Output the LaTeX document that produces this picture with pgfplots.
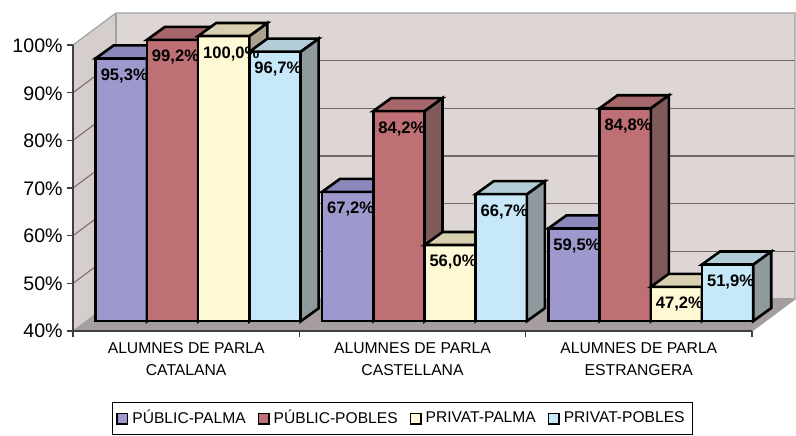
\documentclass[border=0pt]{standalone}
\usepackage{pgfplots}
\pgfplotsset{compat=1.18}
\usepackage{pgfplotstable}
\usepackage{fontspec}
\setmainfont{Liberation Sans}

\definecolor{cAf}{RGB}{158,153,204}
\definecolor{cAt}{RGB}{140,135,186}
\definecolor{cAs}{RGB}{108,104,150}
\definecolor{cBf}{RGB}{190,112,116}
\definecolor{cBt}{RGB}{166,102,106}
\definecolor{cBs}{RGB}{126,90,90}
\definecolor{cCf}{RGB}{255,249,214}
\definecolor{cCt}{RGB}{216,206,176}
\definecolor{cCs}{RGB}{170,162,140}
\definecolor{cDf}{RGB}{198,232,248}
\definecolor{cDt}{RGB}{178,204,216}
\definecolor{cDs}{RGB}{142,154,158}
\definecolor{backwall}{RGB}{222,214,212}
\definecolor{leftwall}{RGB}{214,206,204}
\definecolor{floorc}{RGB}{166,158,158}
\definecolor{gridc}{RGB}{115,104,104}
\definecolor{edgec}{RGB}{160,160,160}

\pgfplotsset{
  layers/mylayers/.define layer set={
    axis background,axis grid,axis ticks,axis lines,axis tick labels,
    main,L1,L2,L3,L4,labels,axis descriptions,axis foreground
  }{
    grid style={/pgfplots/on layer=axis grid},
    tick style={/pgfplots/on layer=axis ticks},
    axis line style={/pgfplots/on layer=axis lines},
    label style={/pgfplots/on layer=axis descriptions},
    legend style={/pgfplots/on layer=axis descriptions},
    ticklabel style={/pgfplots/on layer=axis tick labels},
  },
}

\newcommand{\bw}{12.8pt}
\newcommand{\ddx}{9pt}
\newcommand{\ddy}{6.5pt}
\newcommand{\defcube}[4]{%
 \pgfdeclareplotmark{#1}{%
  \begin{pgfscope}%
  \pgftransformxshift{#4}%
  \pgfmathsetmacro{\hh}{(\barval-40)*2.378}%
  \pgfsetlinewidth{1.3pt}\pgfsetstrokecolor{black}\pgfsetmiterjoin
  \pgfsetfillcolor{#3}%
  \pgfpathmoveto{\pgfpoint{\bw}{0pt}}%
  \pgfpathlineto{\pgfpoint{\bw+\ddx}{\ddy}}%
  \pgfpathlineto{\pgfpoint{\bw+\ddx}{\ddy-\hh pt}}%
  \pgfpathlineto{\pgfpoint{\bw}{-\hh pt}}%
  \pgfpathclose
  \pgfusepath{fill,stroke}%
  \pgfsetfillcolor{#2}%
  \pgfpathmoveto{\pgfpoint{-\bw}{0pt}}%
  \pgfpathlineto{\pgfpoint{\bw}{0pt}}%
  \pgfpathlineto{\pgfpoint{\bw+\ddx}{\ddy}}%
  \pgfpathlineto{\pgfpoint{-\bw+\ddx}{\ddy}}%
  \pgfpathclose
  \pgfusepath{fill,stroke}%
  \end{pgfscope}%
 }}
\defcube{cubeA}{cAt}{cAs}{-38.4pt}
\defcube{cubeB}{cBt}{cBs}{-12.8pt}
\defcube{cubeC}{cCt}{cCs}{12.8pt}
\defcube{cubeD}{cDt}{cDs}{38.4pt}

\pgfplotstableread{
x pp ppo pvp pvpo
0.5 95.3 99.2 100.0 96.7
1.5 67.2 84.2 56.0 66.7
2.5 59.5 84.8 47.2 51.9
}\datatable

\newcommand{\lbl}{\pgfmathprintnumber[fixed,fixed zerofill,precision=1,use comma,assume math mode=true]{\pgfplotspointmeta}\%}

\begin{document}
\begin{tikzpicture}
\begin{scope}[x=0.5pt,y=-0.5pt,shift={(-42.5pt,160.5pt)}]
\useasboundingbox (0,0) rectangle (796,428);
% walls
\fill[backwall] (116,13) rectangle (795,299);
\fill[leftwall] (73,45) -- (116,13) -- (116,299) -- (73,331) -- cycle;
\fill[floorc] (73,331) -- (752,331) -- (795,299) -- (116,299) -- cycle;
\foreach \v in {1,...,5} {
  \draw[gridc, line width=0.6pt] (116,{299-\v*47.667}) -- (795,{299-\v*47.667});
  \draw[gridc, line width=0.5pt] (73,{331-\v*47.667}) -- (116,{299-\v*47.667});
}
\draw[edgec, line width=0.6pt] (73,45) -- (116,13) -- (795,13) -- (795,299) -- (752,331);
\draw[edgec, line width=0.6pt] (116,13) -- (116,299) -- (795,299);
\draw[edgec, line width=0.5pt] (73,331) -- (116,299);
% front axes
\draw[black!75, line width=0.6pt] (73,45) -- (73,331) -- (752,331);
\foreach \v in {0,...,6} \draw[black!75, line width=0.6pt] (67,{331-\v*47.667}) -- (73,{331-\v*47.667});
\foreach \k in {0,...,3} \draw[black!75, line width=0.6pt] ({73+\k*226.33},331) -- ({73+\k*226.33},337);
\end{scope}

\begin{axis}[
  set layers=mylayers,
  at={(0pt,0pt)}, anchor=south west,
  scale only axis, width=339.5pt, height=142.5pt,
  xmin=0, xmax=3, ymin=40, ymax=100,
  clip=false,
  axis line style={draw=none},
  major tick length=0pt,
  xtick={0.5,1.5,2.5},
  xticklabels={{ALUMNES DE PARLA\\CATALANA},{ALUMNES DE PARLA\\CASTELLANA},{ALUMNES DE PARLA\\ESTRANGERA}},
  xticklabel style={align=center, anchor=north, inner sep=0pt, xshift=-6pt, yshift=-10.5pt, font=\fontsize{7.85}{11}\selectfont},
  ytick={40,50,60,70,80,90,100},
  yticklabels={40\%,50\%,60\%,70\%,80\%,90\%,100\%},
  yticklabel style={anchor=east, inner sep=0pt, xshift=-11pt, yshift=-5pt, font=\fontsize{9.8}{12}\selectfont},
  ybar, bar width=25.6pt,
  legend columns=4,
  legend style={at={(0.0398,-0.284)}, anchor=north west, draw=black, fill=white,
    font=\fontsize{7.8}{9}\selectfont, inner sep=2pt,
    /tikz/every even column/.append style={column sep=4pt}},
  legend image code/.code={\draw[#1,draw=black,line width=0.7pt] (0pt,-2.6pt) rectangle (5.3pt,2.6pt);},
  every node near coord/.append style={anchor=north west, inner sep=0pt, xshift=-10.5pt, yshift=-5pt, font=\fontsize{8.3}{10}\selectfont\bfseries, text=black},
]
\addplot[on layer=L1, mark layer=L1, fill=cAf, draw=black, line width=1.3pt, bar shift=-38.4pt, mark=cubeA, visualization depends on={\thisrow{pp} \as \barval}] table[x=x, y=pp] {\datatable};
\addplot[on layer=L2, mark layer=L2, fill=cBf, draw=black, line width=1.3pt, bar shift=-12.8pt, mark=cubeB, visualization depends on={\thisrow{ppo} \as \barval}] table[x=x, y=ppo] {\datatable};
\addplot[on layer=L3, mark layer=L3, fill=cCf, draw=black, line width=1.3pt, bar shift=12.8pt, mark=cubeC, visualization depends on={\thisrow{pvp} \as \barval}] table[x=x, y=pvp] {\datatable};
\addplot[on layer=L4, mark layer=L4, fill=cDf, draw=black, line width=1.3pt, bar shift=38.4pt, mark=cubeD, visualization depends on={\thisrow{pvpo} \as \barval}] table[x=x, y=pvpo] {\datatable};
\addplot[on layer=labels, mark layer=labels, draw=none, fill=none, bar shift=-38.4pt, forget plot, nodes near coords=\lbl] table[x=x, y=pp] {\datatable};
\addplot[on layer=labels, mark layer=labels, draw=none, fill=none, bar shift=-12.8pt, forget plot, nodes near coords=\lbl] table[x=x, y=ppo] {\datatable};
\addplot[on layer=labels, mark layer=labels, draw=none, fill=none, bar shift=12.8pt, forget plot, nodes near coords=\lbl] table[x=x, y=pvp] {\datatable};
\addplot[on layer=labels, mark layer=labels, draw=none, fill=none, bar shift=38.4pt, forget plot, nodes near coords=\lbl] table[x=x, y=pvpo] {\datatable};
\legend{PÚBLIC-PALMA, PÚBLIC-POBLES, PRIVAT-PALMA, PRIVAT-POBLES}
\end{axis}
\end{tikzpicture}
\end{document}
